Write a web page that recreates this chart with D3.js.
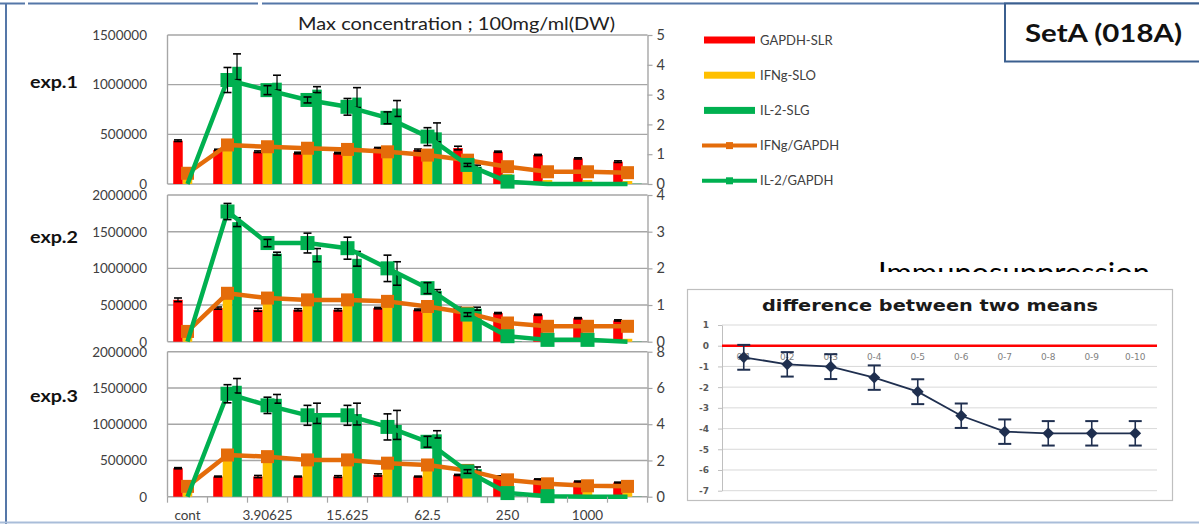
<!DOCTYPE html>
<html><head><meta charset="utf-8">
<script src="https://cdn.jsdelivr.net/npm/d3@7"></script>
<style>
html,body{margin:0;padding:0;background:#fff;}
svg{display:block;font-family:Lato,"Open Sans",sans-serif;}
</style></head><body>
<svg id="chart" width="1199" height="524"></svg>
<script>
// ---------- data ----------
const categories = ["cont","1.953125","3.90625","7.8125","15.625","31.25","62.5","125","250","500","1000","2000"];
const axisLabelCategories = ["cont","3.90625","15.625","62.5","250","1000"];
const seriesNames = ["GAPDH-SLR","IFNg-SLO","IL-2-SLG","IFNg/GAPDH","IL-2/GAPDH"];
const panelLabels = ["exp.1","exp.2","exp.3"];
const chartTitle = "Max concentration ; 100mg/ml(DW)";

const exp1_GAPDH     = [436000,342000,325000,312000,312000,360000,342000,362000,325000,292000,258000,225000];
const exp1_GAPDH_err = [8000,8000,8000,8000,8000,8000,10000,18000,6000,6000,6000,8000];
const exp1_IFNg      = [50000,360000,345000,330000,320000,300000,260000,210000,100000,40000,40000,30000];
const exp1_IL2       = [0,1180000,1020000,950000,870000,760000,520000,175000,5000,3000,3000,3000];
const exp1_IL2_err   = [0,130000,75000,30000,100000,80000,95000,15000,0,0,0,0];
const exp1_IFNgRatio = [0.36,1.31,1.25,1.2,1.16,1.08,0.97,0.8,0.58,0.41,0.41,0.38];
const exp1_IL2Ratio  = [0,3.49,3.15,2.82,2.59,2.22,1.59,0.64,0.08,0,0,0];
const exp1_IL2Ratio_err = [0,0.42,0.15,0.1,0.28,0.2,0.3,0.05,0,0,0,0];

const exp2_GAPDH     = [571000,458000,435000,435000,435000,458000,435000,460000,390000,367000,320000,290000];
const exp2_GAPDH_err = [25000,15000,20000,15000,15000,10000,10000,10000,8000,8000,8000,8000];
const exp2_IFNg      = [80000,620000,550000,530000,530000,510000,440000,350000,200000,50000,50000,40000];
const exp2_IL2       = [0,1630000,1200000,1180000,1130000,930000,690000,450000,5000,3000,3000,3000];
const exp2_IL2_err   = [0,60000,20000,90000,100000,160000,20000,20000,0,0,0,0];
const exp2_IFNgRatio = [0.28,1.32,1.19,1.14,1.14,1.1,0.96,0.78,0.51,0.42,0.42,0.42];
const exp2_IL2Ratio  = [0,3.55,2.69,2.69,2.55,2.0,1.46,0.74,0.15,0.05,0.05,0];
const exp2_IL2Ratio_err = [0,0.22,0.1,0.27,0.3,0.36,0.15,0.05,0,0,0,0];

const exp3_GAPDH     = [393000,278000,278000,278000,278000,300000,278000,300000,280000,240000,210000,195000];
const exp3_GAPDH_err = [8000,6000,15000,6000,12000,15000,6000,8000,8000,6000,6000,6000];
const exp3_IFNg      = [60000,530000,510000,470000,470000,420000,400000,330000,190000,100000,80000,70000];
const exp3_IL2       = [0,1530000,1350000,1150000,1140000,990000,860000,380000,5000,3000,3000,3000];
const exp3_IL2_err   = [0,100000,60000,140000,150000,200000,50000,30000,0,0,0,0];
const exp3_IFNgRatio = [0.57,2.3,2.21,2.03,2.03,1.85,1.75,1.45,0.93,0.71,0.6,0.57];
const exp3_IL2Ratio  = [0,5.68,5.04,4.49,4.49,3.85,3.03,1.39,0.2,0.03,0,0];
const exp3_IL2Ratio_err = [0,0.5,0.45,0.55,0.55,0.72,0.3,0.1,0,0,0,0];

const leftTicks1  = [0,500000,1000000,1500000];
const leftTicks2  = [0,500000,1000000,1500000,2000000];
const leftTicks3  = [0,500000,1000000,1500000,2000000];
const rightTicks1 = [0,1,2,3,4,5];
const rightTicks2 = [0,1,2,3,4];
const rightTicks3 = [0,2,4,6,8];

const diffTitle = "difference between two means";
const diffCategories = ["0-1","0-2","0-3","0-4","0-5","0-6","0-7","0-8","0-9","0-10"];
const diffMeans  = [-0.56,-0.9,-1.01,-1.54,-2.22,-3.38,-4.15,-4.23,-4.23,-4.23];
const diffErrors = [0.6,0.59,0.6,0.59,0.6,0.59,0.59,0.59,0.59,0.59];
const diffTicks  = [1,0,-1,-2,-3,-4,-5,-6,-7];

const setLabel = "SetA (018A)";
const overlayText = "Immunosuppression";

// ---------- styles ----------
const RED="#ff0000", YELLOW="#ffc000", GREEN="#00b050", ORANGE="#e46c0a";
const GRID="#a6a6a6", TXT="#404040";

const svg = d3.select("#chart");

// ---------- frame ----------
const frameColor="#5577a8";
[[0,25],[28,258],[262,1199]].forEach(s=>{
  svg.append("line").attr("x1",s[0]).attr("x2",s[1]).attr("y1",3.5).attr("y2",3.5)
    .attr("stroke",frameColor).attr("stroke-width",2);
});
svg.append("line").attr("x1",6).attr("x2",6).attr("y1",3).attr("y2",524).attr("stroke",frameColor).attr("stroke-width",2);
svg.append("line").attr("x1",0).attr("x2",1199).attr("y1",522.5).attr("y2",522.5).attr("stroke","#a9bdd9").attr("stroke-width",2);

// ---------- main chart ----------
const X0=167.5, X1=647.5;
const x = d3.scaleBand().domain(categories).range([X0,X1]);
const xs = d3.scaleBand().domain(["g","i","l"]).range([0,x.bandwidth()]).paddingInner(0).paddingOuter(0.6);
const cx = c => x(c) + x.bandwidth()/2;

const panels = [
  {label:panelLabels[0], gapdh:exp1_GAPDH, gapdhErr:exp1_GAPDH_err, ifng:exp1_IFNg, il2:exp1_IL2, il2Err:exp1_IL2_err,
   ifngR:exp1_IFNgRatio, il2R:exp1_IL2Ratio, il2RErr:exp1_IL2Ratio_err, lt:leftTicks1, rt:rightTicks1, top:35, bottom:184, labelY:83, xAxis:false},
  {label:panelLabels[1], gapdh:exp2_GAPDH, gapdhErr:exp2_GAPDH_err, ifng:exp2_IFNg, il2:exp2_IL2, il2Err:exp2_IL2_err,
   ifngR:exp2_IFNgRatio, il2R:exp2_IL2Ratio, il2RErr:exp2_IL2Ratio_err, lt:leftTicks2, rt:rightTicks2, top:195, bottom:341.7, labelY:238, xAxis:false},
  {label:panelLabels[2], gapdh:exp3_GAPDH, gapdhErr:exp3_GAPDH_err, ifng:exp3_IFNg, il2:exp3_IL2, il2Err:exp3_IL2_err,
   ifngR:exp3_IFNgRatio, il2R:exp3_IL2Ratio, il2RErr:exp3_IL2Ratio_err, lt:leftTicks3, rt:rightTicks3, top:351.7, bottom:496.7, labelY:397, xAxis:true}
];

function errorBars(g, pts, scale, capW, color, sw){
  pts.filter(p=>p.e>0).forEach(p=>{
    const y1=scale(p.v-p.e), y2=scale(p.v+p.e);
    g.append("line").attr("x1",p.x).attr("x2",p.x).attr("y1",y1).attr("y2",y2).attr("stroke",color).attr("stroke-width",sw);
    [y1,y2].forEach(yy=>g.append("line").attr("x1",p.x-capW/2).attr("x2",p.x+capW/2).attr("y1",yy).attr("y2",yy)
      .attr("stroke",color).attr("stroke-width",sw+0.4));
  });
}

panels.forEach(p=>{
  const g = svg.append("g");
  const yL = d3.scaleLinear().domain([0,d3.max(p.lt)]).range([p.bottom,p.top]);
  const yR = d3.scaleLinear().domain([0,d3.max(p.rt)]).range([p.bottom,p.top]);

  // gridlines
  g.selectAll(null).data(p.lt).join("line")
    .attr("x1",X0).attr("x2",X1).attr("y1",d=>yL(d)).attr("y2",d=>yL(d))
    .attr("stroke",GRID).attr("stroke-width",1.4);
  g.append("line").attr("x1",X0).attr("x2",X0).attr("y1",p.top).attr("y2",p.bottom).attr("stroke",GRID).attr("stroke-width",1.4);

  // left axis labels
  const la = g.append("g").attr("transform",`translate(${X0},0)`)
    .call(d3.axisLeft(yL).tickValues(p.lt).tickSize(0).tickPadding(20.5).tickFormat(d3.format("d")));
  la.select(".domain").remove();
  la.selectAll("text").attr("font-size",13.5).attr("fill",TXT).attr("font-family","Lato");

  // right axis
  const ra = g.append("g").attr("transform",`translate(${X1},0)`)
    .call(d3.axisRight(yR).tickValues(p.rt).tickSize(5).tickSizeOuter(0).tickPadding(4).tickFormat(d3.format("d")));
  ra.select(".domain").attr("stroke",GRID).attr("stroke-width",1.4);
  ra.selectAll(".tick line").attr("stroke",GRID).attr("stroke-width",1.2);
  ra.selectAll("text").attr("font-size",14.5).attr("fill",TXT).attr("font-family","Lato");

  // bars
  const bars = [
    {k:"g", v:p.gapdh, e:p.gapdhErr, c:RED},
    {k:"i", v:p.ifng, e:null, c:YELLOW},
    {k:"l", v:p.il2, e:p.il2Err, c:GREEN}
  ];
  bars.forEach(s=>{
    g.selectAll(null).data(categories).join("rect")
      .attr("x",c=>x(c)+xs(s.k)).attr("width",xs.bandwidth())
      .attr("y",(c,i)=>yL(s.v[i])).attr("height",(c,i)=>yL(0)-yL(s.v[i]))
      .attr("fill",s.c);
  });
  bars.filter(s=>s.e).forEach(s=>{
    errorBars(g, categories.map((c,i)=>({x:x(c)+xs(s.k)+xs.bandwidth()/2, v:s.v[i], e:s.e[i]})), yL, 8, "#000", 1.2);
  });

  // lines
  const line = d3.line().x((d,i)=>cx(categories[i])).y(d=>yR(d));
  g.append("path").datum(p.ifngR).attr("d",line).attr("fill","none").attr("stroke",ORANGE).attr("stroke-width",4.5).attr("stroke-linejoin","round");
  g.selectAll(null).data(p.ifngR).join("rect")
    .attr("x",(d,i)=>cx(categories[i])-6.5).attr("y",d=>yR(d)-6.5).attr("width",13).attr("height",13).attr("fill",ORANGE);

  g.append("path").datum(p.il2R).attr("d",line).attr("fill","none").attr("stroke",GREEN).attr("stroke-width",4.5).attr("stroke-linejoin","round");
  g.selectAll(null).data(p.il2R.map((v,i)=>({v,i})).filter(d=>d.v>0)).join("rect")
    .attr("x",d=>cx(categories[d.i])-7).attr("y",d=>yR(d.v)-7).attr("width",14).attr("height",14).attr("fill",GREEN);
  errorBars(g, categories.map((c,i)=>({x:cx(c), v:p.il2R[i], e:p.il2RErr[i]})), yR, 8, "#000", 1.2);

  // panel label
  g.append("text").attr("x",30).attr("y",p.labelY+5).attr("font-size",17).attr("font-weight","bold")
    .attr("fill","#111").attr("textLength",48).attr("lengthAdjust","spacingAndGlyphs").text(p.label);

  if(p.xAxis){
    g.selectAll(null).data(categories.map(c=>x(c)).concat([X1])).join("line")
      .attr("x1",d=>d).attr("x2",d=>d).attr("y1",p.bottom).attr("y2",p.bottom+6)
      .attr("stroke",GRID).attr("stroke-width",1.2);
    const xa = g.append("g").attr("transform",`translate(0,${p.bottom})`)
      .call(d3.axisBottom(x).tickValues(axisLabelCategories).tickSize(0).tickPadding(14));
    xa.select(".domain").remove();
    xa.selectAll("text").attr("font-size",13.5).attr("fill",TXT).attr("font-family","Lato");
  }
});

// title
svg.append("text").attr("x",298).attr("y",30).attr("font-size",18).attr("fill","#222")
  .attr("textLength",317).attr("lengthAdjust","spacingAndGlyphs").text(chartTitle);

// legend
const legendColors = [RED,YELLOW,GREEN,ORANGE,GREEN];
seriesNames.forEach((name,i)=>{
  const ly = 40 + i*35.2;
  if(i<3){
    svg.append("rect").attr("x",704).attr("y",ly-3.5).attr("width",51).attr("height",7).attr("fill",legendColors[i]);
  } else {
    svg.append("line").attr("x1",702).attr("x2",757).attr("y1",ly).attr("y2",ly).attr("stroke",legendColors[i]).attr("stroke-width",4);
    svg.append("rect").attr("x",726).attr("y",ly-3.5).attr("width",7).attr("height",7).attr("fill",legendColors[i]);
  }
  svg.append("text").attr("x",760).attr("y",ly+4.5).attr("font-size",13).attr("fill",TXT).text(name);
});

// SetA box
svg.append("rect").attr("x",1005).attr("y",3.5).attr("width",200).attr("height",58).attr("fill","#fff")
  .attr("stroke","#3b5f8f").attr("stroke-width",2);
svg.append("text").attr("x",1103.5).attr("y",42).attr("text-anchor","middle").attr("font-size",24).attr("font-weight","bold")
  .attr("fill","#111").attr("textLength",157).attr("lengthAdjust","spacingAndGlyphs").text(setLabel);

// clipped overlay text
svg.append("clipPath").attr("id","clipTop").append("rect").attr("x",800).attr("y",250).attr("width",399).attr("height",22);
svg.append("text").attr("x",878).attr("y",283).attr("font-size",28).attr("fill","#000").attr("clip-path","url(#clipTop)")
  .attr("textLength",272).attr("lengthAdjust","spacingAndGlyphs").text(overlayText);

// ---------- difference chart ----------
const dg = svg.append("g");
dg.append("rect").attr("x",687.5).attr("y",289.5).attr("width",485).attr("height",211).attr("fill","#fff").attr("stroke","#bfbfbf").attr("stroke-width",1.2);
dg.append("text").attr("x",930).attr("y",311).attr("text-anchor","middle").attr("font-family","DejaVu Sans").attr("font-weight","bold")
  .attr("font-size",15).attr("fill","#1a1a1a").attr("textLength",336).attr("lengthAdjust","spacingAndGlyphs").text(diffTitle);
const DX0=722, DX1=1157;
const dy = d3.scaleLinear().domain([-7,1]).range([490.7,325]);
const dx = d3.scaleBand().domain(diffCategories).range([DX0,DX1]);
const dcx = c => dx(c)+dx.bandwidth()/2;
dg.selectAll(null).data(diffTicks).join("line").attr("x1",DX0).attr("x2",DX1).attr("y1",d=>dy(d)).attr("y2",d=>dy(d))
  .attr("stroke","#d9d9d9").attr("stroke-width",1);
const dya = dg.append("g").attr("transform",`translate(${DX0},0)`)
  .call(d3.axisLeft(dy).tickValues(diffTicks).tickSize(4).tickSizeOuter(0).tickPadding(9).tickFormat(d3.format("d")));
dya.select(".domain").attr("stroke","#bfbfbf");
dya.selectAll(".tick line").attr("stroke","#bfbfbf");
dya.selectAll("text").attr("font-size",9).attr("fill","#595959").attr("font-family","DejaVu Sans").attr("font-weight","bold")
  .text(d=> d<0 ? "-"+Math.abs(d) : d);
dg.append("line").attr("x1",DX0).attr("x2",DX1).attr("y1",dy(0)).attr("y2",dy(0)).attr("stroke","#ff0000").attr("stroke-width",2.5);
dg.selectAll(null).data(diffCategories).join("text").attr("x",c=>dcx(c)).attr("y",dy(0)+14).attr("text-anchor","middle")
  .attr("font-size",9).attr("font-family","DejaVu Sans").attr("fill","#7f7f7f").text(c=>c);
const NAVY="#1f2f4f";
const dline = d3.line().x((d,i)=>dcx(diffCategories[i])).y(d=>dy(d));
dg.append("path").datum(diffMeans).attr("d",dline).attr("fill","none").attr("stroke",NAVY).attr("stroke-width",1.8);
errorBars(dg, diffCategories.map((c,i)=>({x:dcx(c), v:diffMeans[i], e:diffErrors[i]})), dy, 13, NAVY, 1.6);
dg.selectAll(null).data(diffMeans).join("path")
  .attr("d",d3.symbol(d3.symbolSquare).size(70))
  .attr("transform",(d,i)=>`translate(${dcx(diffCategories[i])},${dy(d)}) rotate(45)`).attr("fill",NAVY);
</script></body></html>
